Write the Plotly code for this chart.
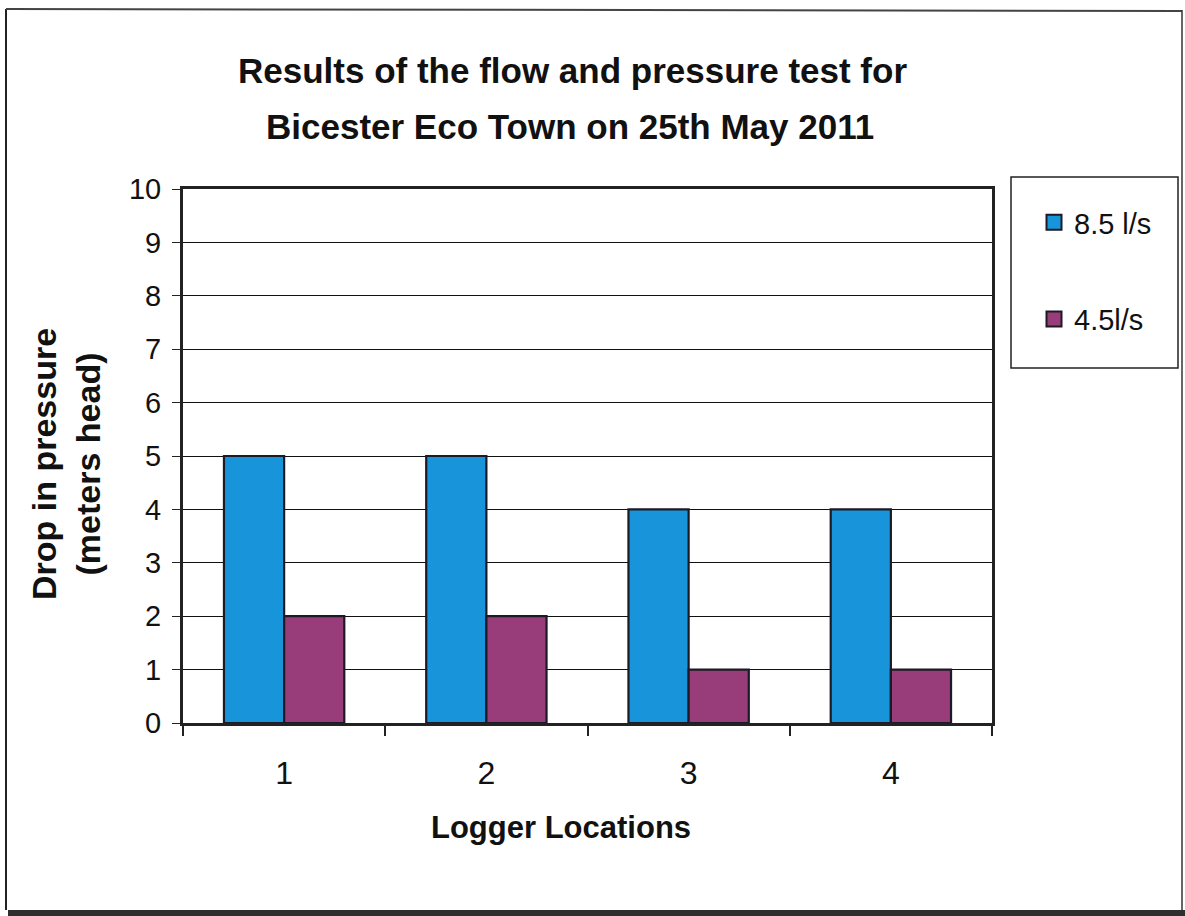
import plotly.graph_objects as go

# Logger locations and measured pressure drops (metres head)
locations = ["1", "2", "3", "4"]
flow_high = [5, 5, 4, 4]      # 8.5 l/s
flow_low = [2, 2, 1, 1]       # 4.5 l/s
series_names = ["8.5 l/s", "4.5l/s"]
series_colors = ["#1894DA", "#983C7A"]
y_ticks = list(range(0, 11))

W, H = 1185, 916
L, R, T, B = 183, 193, 189, 193
PW, PH = W - L - R, H - T - B


def px(x):
    return (x - L) / PW


def py(y):
    return (H - B - y) / PH


fig = go.Figure()
for name, vals, col in zip(series_names, [flow_high, flow_low], series_colors):
    fig.add_trace(go.Bar(
        x=locations, y=vals, name=name, showlegend=False,
        marker=dict(color=col, line=dict(color="#1c1a24", width=2.2)),
    ))

# legend entries as square swatches
for i, (name, col) in enumerate(zip(series_names, series_colors)):
    fig.add_trace(go.Scatter(
        x=[None], y=[None], mode="markers", name=name,
        legendgroup=f"g{i}",
        marker=dict(symbol="square", size=15, color=col,
                    line=dict(color="#1c1a24", width=2)),
    ))

font_main = "Liberation Sans, Arial, sans-serif"

fig.update_layout(
    width=W, height=H,
    margin=dict(l=L, r=R, t=T, b=B, pad=0),
    paper_bgcolor="white", plot_bgcolor="white",
    bargap=0.405, bargroupgap=0,
    barmode="group",
    font=dict(family=font_main, color="#111"),
    showlegend=True,
    legend=dict(
        x=px(1034), y=py(197), xanchor="left", yanchor="top",
        bgcolor="rgba(0,0,0,0)", borderwidth=0,
        traceorder="grouped", tracegroupgap=56,
        font=dict(size=29, family=font_main, color="#111"),
        itemsizing="trace",
    ),
    xaxis=dict(
        type="category", categoryorder="array", categoryarray=locations,
        showline=True, linecolor="#222", linewidth=3, mirror=True,
        ticks="outside", ticklen=10, tickwidth=1.5, tickcolor="#222",
        tickson="boundaries", ticklabelstandoff=20,
        tickfont=dict(size=32, family=font_main, color="#111"),
        showgrid=False, zeroline=False,
    ),
    yaxis=dict(
        range=[0, 10], tickvals=y_ticks,
        showline=True, linecolor="#222", linewidth=3, mirror=True,
        ticks="outside", ticklen=8, tickwidth=1, tickcolor="#222",
        ticklabelstandoff=5,
        tickfont=dict(size=29, family=font_main, color="#111"),
        showgrid=True, gridcolor="#111", gridwidth=1,
        zeroline=False,
    ),
)

# chart title (two lines)
fig.add_annotation(text="<b>Results of the flow and pressure test for</b>",
                   xref="paper", yref="paper", x=px(572), y=py(70),
                   showarrow=False, font=dict(size=35, family=font_main, color="#111"),
                   xanchor="center", yanchor="middle")
fig.add_annotation(text="<b>Bicester Eco Town on 25th May 2011</b>",
                   xref="paper", yref="paper", x=px(570), y=py(126),
                   showarrow=False, font=dict(size=35, family=font_main, color="#111"),
                   xanchor="center", yanchor="middle")

# axis titles
fig.add_annotation(text="<b>Drop in pressure<br>(meters head)</b>",
                   xref="paper", yref="paper", x=px(66), y=py(464),
                   showarrow=False, textangle=-90,
                   font=dict(size=34, family=font_main, color="#111"),
                   xanchor="center", yanchor="middle")
fig.add_annotation(text="<b>Logger Locations</b>",
                   xref="paper", yref="paper", x=px(561), y=py(827),
                   showarrow=False,
                   font=dict(size=31, family=font_main, color="#111"),
                   xanchor="center", yanchor="middle")

# legend frame
fig.add_shape(type="rect", xref="paper", yref="paper",
              x0=px(1011), x1=px(1178), y0=py(177), y1=py(368),
              line=dict(color="#222", width=1.5), fillcolor="rgba(0,0,0,0)")

# outer chart frame
fig.add_shape(type="line", xref="paper", yref="paper",
              x0=px(6), x1=px(6), y0=py(9), y1=py(910),
              line=dict(color="#222", width=2))
fig.add_shape(type="line", xref="paper", yref="paper",
              x0=px(6), x1=px(1182), y0=py(9), y1=py(11),
              line=dict(color="#444", width=2))
fig.add_shape(type="line", xref="paper", yref="paper",
              x0=px(1182), x1=px(1182), y0=py(10), y1=py(910),
              line=dict(color="#333", width=1.5))
fig.add_shape(type="rect", xref="paper", yref="paper",
              x0=px(8), x1=px(1185), y0=py(910), y1=py(916),
              line=dict(width=0), fillcolor="#2e2e2e")

fig.write_html("out.html")
